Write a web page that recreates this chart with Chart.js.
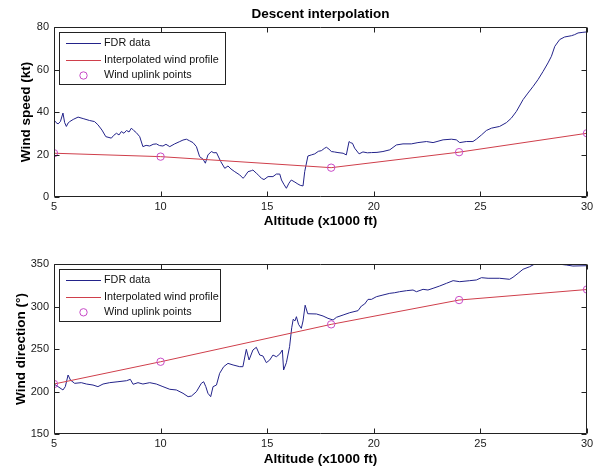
<!DOCTYPE html>
<html>
<head>
<meta charset="utf-8">
<script src="https://cdn.jsdelivr.net/npm/chart.js@4.4.1/dist/chart.umd.min.js"></script>
<style>
  html, body { margin: 0; padding: 0; background: #fff; }
  #wrap { position: relative; width: 600px; height: 469px; overflow: hidden; background: #fff; }
  #wrap canvas { position: absolute; left: 0; }
</style>
</head>
<body>
<div id="wrap">
  <canvas id="speedChart" width="600" height="235" style="top:0"></canvas>
  <canvas id="dirChart" width="600" height="234" style="top:235px"></canvas>
</div>
<script>
// ---- Tick labels ----
const altTicks = [5, 10, 15, 20, 25, 30];
const speedTicks = [0, 20, 40, 60, 80];
const dirTicks = [150, 200, 250, 300, 350];

// ---- Series names ----
const seriesNames = ['FDR data', 'Interpolated wind profile', 'Wind uplink points'];

// ---- Wind uplink points (altitude x1000 ft) ----
const uplinkAlt = [5, 10, 18, 24, 30];
const uplinkSpeed = [20.6, 19.0, 13.8, 21.1, 30.0];
const uplinkDir = [208.8, 235.0, 279.0, 307.6, 320.0];

// ---- Recorded wind speed (kt) vs altitude ----
const speedAlt = [5.00, 5.10, 5.19, 5.30, 5.42, 5.50, 5.58, 5.66, 5.74, 5.90, 6.13, 6.40, 6.67, 6.90, 7.06, 7.25, 7.43, 7.69, 7.80, 7.93,
  8.05, 8.16, 8.28, 8.40, 8.52, 8.63, 8.75, 8.86, 9.02, 9.17, 9.32, 9.49, 9.65, 9.80, 9.95, 10.11, 10.25, 10.43, 10.66, 10.90,
  11.05, 11.21, 11.35, 11.52, 11.68, 11.83, 11.99, 12.10, 12.22, 12.38, 12.50, 12.62, 12.82, 13.01, 13.16, 13.30, 13.48, 13.71, 13.87, 13.94,
  14.10, 14.26, 14.33, 14.49, 14.60, 14.73, 14.85, 15.04, 15.27, 15.43, 15.59, 15.67, 15.78, 15.90, 16.02, 16.13, 16.30, 16.44, 16.55, 16.68,
  16.76, 16.91, 17.07, 17.23, 17.40, 17.54, 17.70, 17.78, 17.90, 18.01, 18.15, 18.32, 18.56, 18.71, 18.84, 18.92, 19.00, 19.10, 19.31, 19.49,
  19.70, 19.89, 20.15, 20.43, 20.75, 21.06, 21.37, 21.76, 22.07, 22.47, 22.78, 23.25, 23.64, 23.87, 24.03, 24.34, 24.65, 24.81, 25.05, 25.28,
  25.52, 25.90, 26.22, 26.45, 26.69, 27.00, 27.23, 27.47, 27.70, 27.94, 28.17, 28.33, 28.49, 28.72, 28.95, 29.11, 29.27, 29.42, 29.58, 29.81, 30.00];
const speedKt = [36.3, 35.0, 34.4, 35.5, 39.5, 35.0, 33.2, 34.8, 35.5, 36.5, 37.6, 36.8, 36.0, 35.5, 34.0, 31.5, 28.4, 27.7, 29.0, 30.0,
  29.2, 30.8, 30.0, 31.3, 30.6, 32.4, 31.2, 30.3, 28.4, 23.7, 24.3, 24.0, 24.8, 25.0, 24.2, 24.0, 24.8, 23.7, 25.0, 26.1,
  26.8, 27.2, 26.5, 25.6, 23.7, 19.0, 17.8, 15.9, 19.8, 21.4, 20.8, 20.9, 16.7, 13.5, 14.6, 13.2, 11.9, 10.4, 8.8, 9.6,
  11.9, 12.4, 12.7, 11.2, 10.2, 8.8, 8.2, 9.6, 9.6, 10.8, 10.8, 8.0, 6.0, 4.1, 6.5, 8.0, 7.0, 6.1, 5.5, 5.2,
  12.0, 19.3, 19.8, 20.3, 21.5, 21.8, 23.0, 23.4, 22.5, 21.4, 21.2, 20.9, 20.6, 19.8, 26.1, 25.5, 25.3, 23.0, 20.3, 21.2,
  20.8, 20.9, 21.0, 21.4, 22.2, 24.5, 25.0, 25.0, 25.6, 26.1, 25.6, 26.9, 27.2, 26.9, 25.6, 26.1, 26.1, 27.2, 29.2, 31.3,
  32.4, 33.2, 35.0, 37.1, 40.3, 45.8, 48.9, 52.0, 55.2, 59.1, 63.1, 66.2, 70.9, 74.1, 75.3, 75.6, 75.9, 76.4, 77.2, 77.5, 77.7];

// ---- Recorded wind direction (deg) vs altitude ----
const dirAlt = [5.00, 5.19, 5.42, 5.53, 5.66, 5.77, 5.97, 6.28, 6.52, 6.83, 7.06, 7.30, 7.61, 8.00, 8.40, 8.58, 8.71, 8.94, 9.17, 9.49,
  9.80, 10.11, 10.43, 10.74, 11.05, 11.29, 11.45, 11.68, 11.91, 12.02, 12.12, 12.22, 12.35, 12.46, 12.62, 12.77, 12.96, 13.16, 13.40, 13.71,
  13.86, 14.02, 14.15, 14.33, 14.49, 14.65, 14.80, 14.96, 15.12, 15.27, 15.43, 15.59, 15.71, 15.77, 15.90, 16.05, 16.15, 16.22, 16.30, 16.37,
  16.47, 16.60, 16.68, 16.78, 16.90, 17.31, 17.62, 17.85, 18.09, 18.25, 18.56, 18.87, 19.26, 19.42, 19.57, 19.73, 19.89, 20.12, 20.43, 20.75,
  20.98, 21.21, 21.53, 21.84, 22.00, 22.31, 22.54, 22.78, 23.09, 23.41, 23.72, 24.03, 24.50, 24.81, 25.05, 25.36, 25.90, 26.37, 26.53, 26.77,
  27.00, 27.31, 27.55, 28.09, 28.64, 29.03, 29.34, 30.00];
const dirDeg = [208.8, 205.7, 201.8, 205.7, 219.4, 213.5, 209.6, 210.4, 208.8, 207.6, 205.7, 208.8, 210.4, 211.5, 212.7, 214.3, 208.5, 210.4, 208.8, 210.4,
  208.8, 205.7, 202.6, 201.8, 197.9, 193.9, 194.7, 199.8, 209.6, 211.5, 205.7, 197.9, 193.9, 205.7, 207.6, 221.4, 229.2, 233.1, 231.2, 229.2,
  229.2, 249.6, 237.1, 248.8, 252.0, 242.9, 241.8, 233.9, 237.1, 242.9, 240.9, 244.1, 248.8, 225.3, 233.9, 252.7, 275.0, 285.0, 283.0, 288.0,
  279.0, 274.3, 283.0, 301.5, 291.5, 291.2, 288.8, 286.1, 284.1, 287.3, 290.0, 292.7, 295.1, 300.6, 302.9, 308.4, 308.4, 311.5, 313.5, 315.5,
  316.2, 317.4, 318.6, 319.4, 317.4, 320.2, 319.4, 321.4, 324.1, 327.3, 330.4, 329.2, 330.4, 331.2, 333.9, 333.2, 333.2, 332.0, 334.4, 339.1,
  343.8, 346.8, 350.0, 350.0, 350.0, 348.8, 347.6, 348.0];

// ---- Styling ----
const FONT = "'Liberation Sans', Arial, Helvetica, sans-serif";
const BLUE = '#23238a';
const RED = '#cf3f4b';
const MAGENTA = '#c84bc8';
const AXIS = '#222222';
const TICK_LEN = 5;

function toPoints(xs, ys) {
  return xs.map((x, i) => ({ x: x, y: ys[i] }));
}

// Closed axes box with inward tick marks on all four sides
const framePlugin = {
  id: 'frame',
  afterDatasetsDraw(chart) {
    const { ctx, chartArea: a, scales } = chart;
    const L = Math.round(a.left) + 0.5, R = Math.round(a.right) - 0.5;
    const T = Math.round(a.top) + 0.5, B = Math.round(a.bottom) - 0.5;
    ctx.save();
    ctx.strokeStyle = AXIS;
    ctx.lineWidth = 1;
    ctx.beginPath();
    ctx.rect(L, T, R - L, B - T);
    scales.x.ticks.forEach(t => {
      const px = Math.round(scales.x.getPixelForValue(t.value)) + 0.5;
      ctx.moveTo(px, B); ctx.lineTo(px, B - TICK_LEN);
      ctx.moveTo(px, T); ctx.lineTo(px, T + TICK_LEN);
    });
    scales.y.ticks.forEach(t => {
      const py = Math.round(scales.y.getPixelForValue(t.value)) + 0.5;
      ctx.moveTo(L, py); ctx.lineTo(L + TICK_LEN, py);
      ctx.moveTo(R, py); ctx.lineTo(R - TICK_LEN, py);
    });
    ctx.stroke();
    ctx.restore();
  }
};

// Boxed legend inside the axes, upper-left corner
const boxLegendPlugin = {
  id: 'boxLegend',
  afterDraw(chart, args, o) {
    if (!o || !o.rows) return;
    const ctx = chart.ctx;
    ctx.save();
    ctx.fillStyle = '#ffffff';
    ctx.fillRect(o.left, o.top, o.right - o.left, o.bottom - o.top);
    ctx.strokeStyle = AXIS;
    ctx.lineWidth = 1;
    ctx.strokeRect(o.left + 0.5, o.top + 0.5, o.right - o.left, o.bottom - o.top);
    ctx.font = '10.8px ' + FONT;
    ctx.textBaseline = 'middle';
    ctx.textAlign = 'left';
    chart.data.datasets.forEach((ds, i) => {
      const y = o.rows[i];
      if (ds.showLine) {
        ctx.strokeStyle = ds.borderColor;
        ctx.lineWidth = ds.borderWidth;
        ctx.beginPath();
        ctx.moveTo(o.sampleFrom, Math.round(y) + 0.5);
        ctx.lineTo(o.sampleTo, Math.round(y) + 0.5);
        ctx.stroke();
      } else {
        ctx.strokeStyle = ds.pointBorderColor;
        ctx.lineWidth = ds.pointBorderWidth;
        ctx.beginPath();
        ctx.arc((o.sampleFrom + o.sampleTo) / 2, y, ds.pointRadius, 0, Math.PI * 2);
        ctx.stroke();
      }
      ctx.fillStyle = '#111111';
      ctx.fillText(ds.label, o.textX, y);
    });
    ctx.restore();
  }
};

// Bold title centred over the axes
const plotTitlePlugin = {
  id: 'plotTitle',
  afterDraw(chart, args, o) {
    if (!o || !o.text) return;
    const { ctx, chartArea: a } = chart;
    ctx.save();
    ctx.font = 'bold 13.5px ' + FONT;
    ctx.fillStyle = '#000000';
    ctx.textAlign = 'center';
    ctx.textBaseline = 'middle';
    ctx.fillText(o.text, (a.left + a.right) / 2, o.y);
    ctx.restore();
  }
};

function makeChart(canvasId, cfg) {
  const datasets = [
    {
      label: seriesNames[0],
      data: toPoints(cfg.fdrX, cfg.fdrY),
      showLine: true,
      borderColor: BLUE,
      borderWidth: 1,
      pointRadius: 0,
      tension: 0,
      order: 3
    },
    {
      label: seriesNames[1],
      data: toPoints(uplinkAlt, cfg.uplinkY),
      showLine: true,
      borderColor: RED,
      borderWidth: 1,
      pointRadius: 0,
      tension: 0,
      order: 2
    },
    {
      label: seriesNames[2],
      data: toPoints(uplinkAlt, cfg.uplinkY),
      showLine: false,
      pointStyle: 'circle',
      pointRadius: 3.7,
      pointBorderWidth: 1,
      pointBorderColor: MAGENTA,
      pointBackgroundColor: 'rgba(0,0,0,0)',
      borderColor: MAGENTA,
      order: 1
    }
  ];

  return new Chart(document.getElementById(canvasId), {
    type: 'scatter',
    data: { datasets: datasets },
    options: {
      responsive: false,
      animation: false,
      devicePixelRatio: 1,
      events: [],
      layout: { padding: { left: 0, right: 13, top: cfg.padTop, bottom: 0 } },
      plugins: {
        legend: { display: false },
        tooltip: { enabled: false },
        boxLegend: cfg.legend,
        plotTitle: cfg.title || {}
      },
      scales: {
        x: {
          type: 'linear',
          position: 'bottom',
          min: altTicks[0],
          max: altTicks[altTicks.length - 1],
          afterBuildTicks: s => { s.ticks = altTicks.map(v => ({ value: v })); },
          afterFit: s => { s.height = cfg.xHeight; },
          grid: { display: false, drawTicks: false },
          border: { display: false },
          ticks: {
            autoSkip: false, maxRotation: 0, padding: 3,
            color: '#1a1a1a', font: { family: FONT, size: 11 }
          },
          title: {
            display: true,
            text: 'Altitude (x1000 ft)',
            color: '#000000',
            font: { family: FONT, size: 13.5, weight: 'bold' },
            padding: { top: 0, bottom: cfg.xTitlePad }
          }
        },
        y: {
          type: 'linear',
          position: 'left',
          min: cfg.yTicks[0],
          max: cfg.yTicks[cfg.yTicks.length - 1],
          afterBuildTicks: s => { s.ticks = cfg.yTicks.map(v => ({ value: v })); },
          afterFit: s => { s.width = 54; },
          grid: { display: false, drawTicks: false },
          border: { display: false },
          ticks: {
            autoSkip: false, padding: 5,
            color: '#1a1a1a', font: { family: FONT, size: 11 }
          },
          title: {
            display: true,
            text: cfg.yTitle,
            color: '#000000',
            font: { family: FONT, size: 13.5, weight: 'bold' },
            padding: { top: cfg.yTitlePad, bottom: 0 }
          }
        }
      }
    },
    plugins: [framePlugin, boxLegendPlugin, plotTitlePlugin]
  });
}

makeChart('speedChart', {
  fdrX: speedAlt, fdrY: speedKt, uplinkY: uplinkSpeed,
  yTicks: speedTicks, yTitle: 'Wind speed (kt)',
  padTop: 27, xHeight: 38, xTitlePad: 6, yTitlePad: 18.4,
  title: { text: 'Descent interpolation', y: 14.5 },
  legend: { left: 59, top: 32, right: 225, bottom: 84, rows: [43.3, 60, 75.5], sampleFrom: 66, sampleTo: 101, textX: 104 }
});

makeChart('dirChart', {
  fdrX: dirAlt, fdrY: dirDeg, uplinkY: uplinkDir,
  yTicks: dirTicks, yTitle: 'Wind direction (°)',
  padTop: 29, xHeight: 35, xTitlePad: 2, yTitlePad: 12.9,
  legend: { left: 59, top: 34, right: 220, bottom: 86, rows: [45, 61.7, 77.3], sampleFrom: 66, sampleTo: 101, textX: 104 }
});
</script>
</body>
</html>
